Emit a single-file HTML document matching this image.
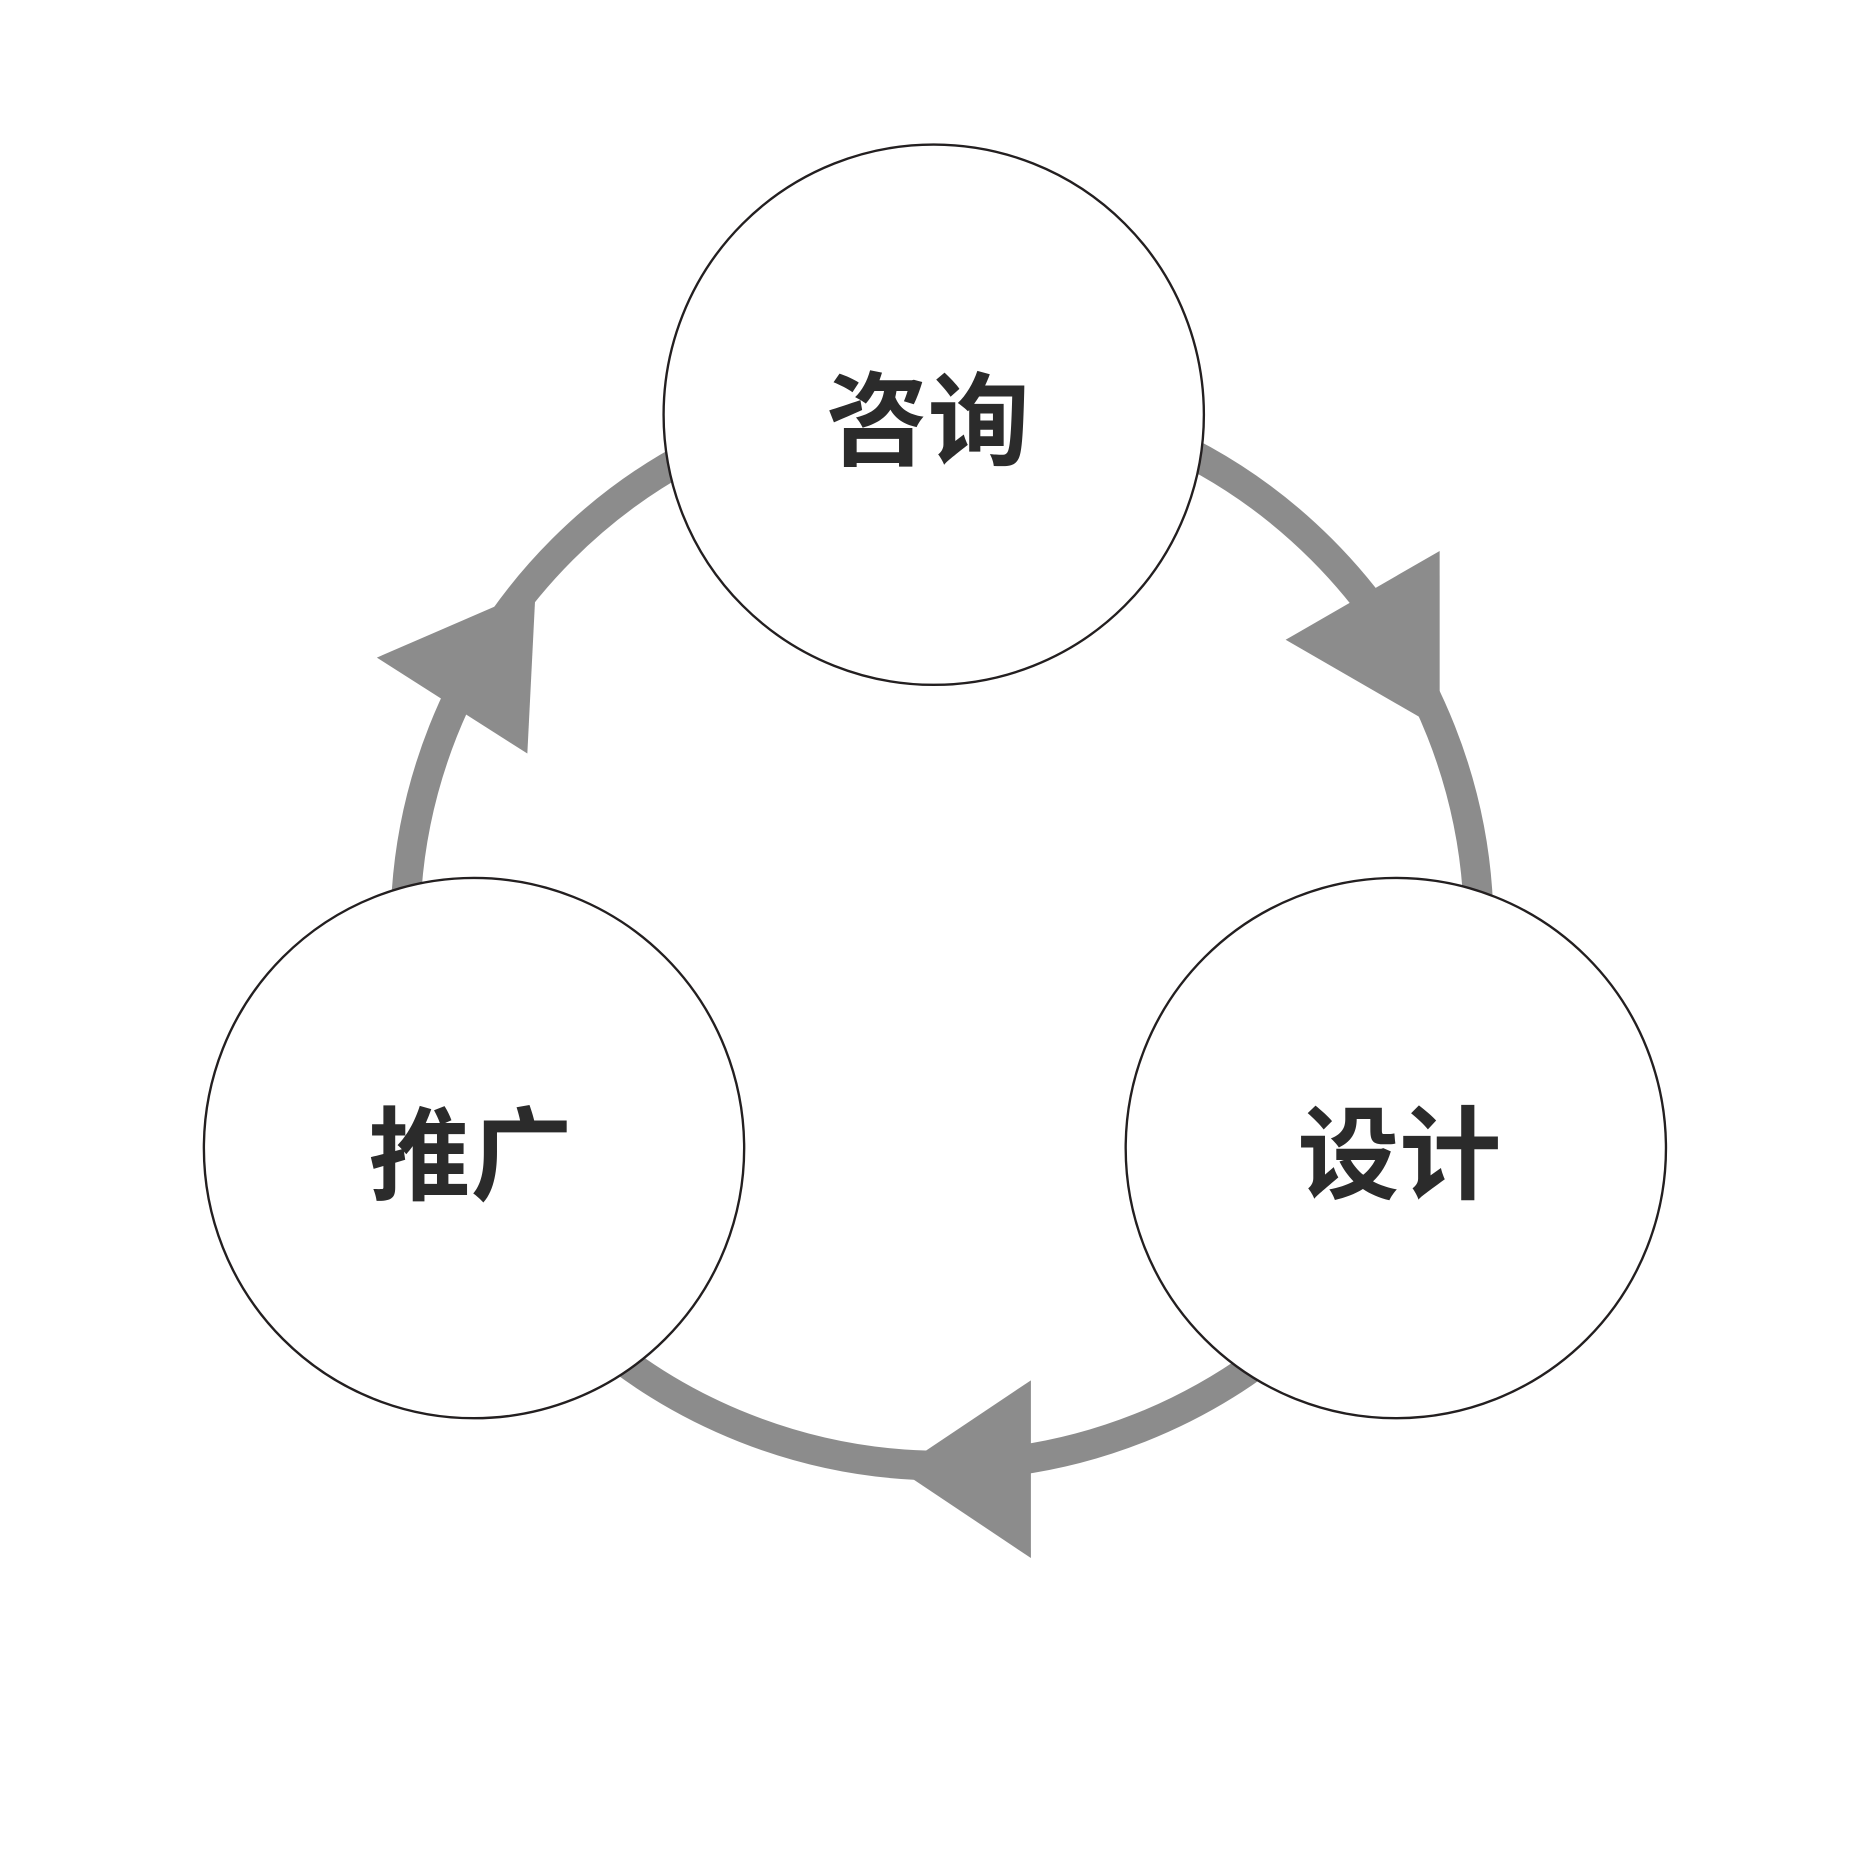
<!DOCTYPE html>
<html><head><meta charset="utf-8"><style>html,body{margin:0;padding:0;background:#fff}svg{display:block}</style></head>
<body>
<svg width="1858" height="1859" viewBox="0 0 1568 1569" xmlns="http://www.w3.org/2000/svg">
<circle cx="795" cy="784" r="453" fill="none" stroke="#8c8c8c" stroke-width="25"/>
<polygon points="1215,465 1085,540 1215,615" fill="#8c8c8c"/>
<polygon points="870,1165 758,1240 870,1315" fill="#8c8c8c"/>
<polygon points="318,555 445,636 452,497" fill="#8c8c8c"/>
<g fill="#fff" stroke="#231f20" stroke-width="2">
<circle cx="788" cy="350" r="228"/>
<circle cx="1178" cy="969" r="228"/>
<circle cx="400" cy="969" r="228"/>
</g>
<g font-family="'Liberation Sans','Noto Sans CJK SC',sans-serif" font-weight="bold" font-size="86" fill="#2b2b2b" text-anchor="middle">
<text x="783" y="386">咨询</text>
<text x="1181" y="1005">设计</text>
<text x="397" y="1006">推广</text>
</g>
</svg>
</body></html>
